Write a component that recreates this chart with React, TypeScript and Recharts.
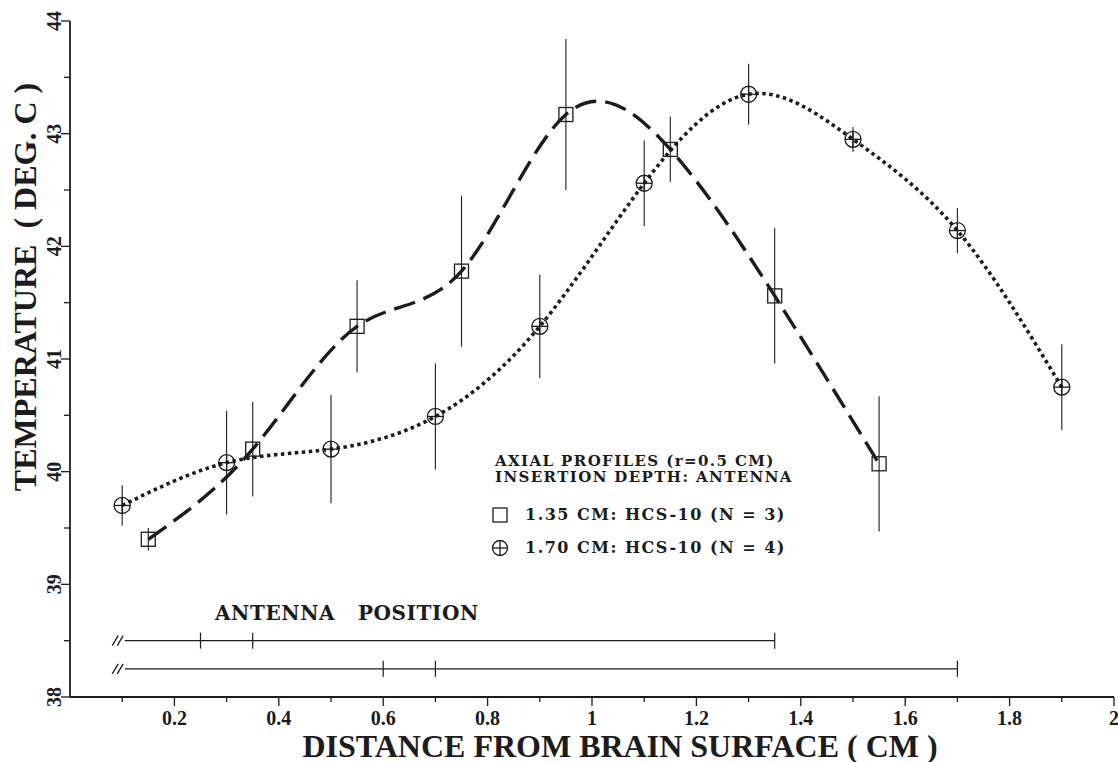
import React from 'react';
import {
  ComposedChart, Line, Scatter, XAxis, YAxis, ErrorBar, ReferenceLine, ReferenceDot,
} from 'recharts';

// 1.35 cm insertion (squares, long dashes)
const sqDepth = [0.15, 0.35, 0.55, 0.75, 0.95, 1.15, 1.35, 1.55];
const sqTemp  = [39.4, 40.2, 41.29, 41.78, 43.17, 42.86, 41.56, 40.07];
const sqErr   = [0.1, 0.42, 0.41, 0.67, 0.67, 0.29, 0.6, 0.6];

// 1.70 cm insertion (crossed circles, dotted)
const ciDepth = [0.1, 0.3, 0.5, 0.7, 0.9, 1.1, 1.3, 1.5, 1.7, 1.9];
const ciTemp  = [39.7, 40.08, 40.2, 40.49, 41.29, 42.56, 43.35, 42.95, 42.14, 40.75];
const ciErr   = [0.18, 0.46, 0.48, 0.47, 0.46, 0.38, 0.27, 0.11, 0.2, 0.38];

const xTicks = [0, 0.1, 0.2, 0.3, 0.4, 0.5, 0.6, 0.7, 0.8, 0.9, 1, 1.1, 1.2, 1.3, 1.4, 1.5, 1.6, 1.7, 1.8, 1.9, 2];
const yTicks = [38, 38.5, 39, 39.5, 40, 40.5, 41, 41.5, 42, 42.5, 43, 43.5, 44];

// antenna position bars
const antennaLevel = [38.5, 38.25];
const antennaStart = [0.105, 0.105];
const antennaEnd   = [1.35, 1.7];
const antennaMarks = [[0.25, 0.35], [0.6, 0.7]];

const W = 1118;
const H = 762;
const PLOT_LEFT = 70;
const PLOT_BOTTOM = 697;
const INK = '#1c1c1c';
const SERIF = '"Liberation Serif", "Times New Roman", serif';
const WIDE = '"DejaVu Serif", serif';

const sqData = sqDepth.map((x, i) => ({ x, y: sqTemp[i], err: sqErr[i] }));
const ciData = ciDepth.map((x, i) => ({ x, y: ciTemp[i], err: ciErr[i] }));

const SquareMark = ({ cx, cy }: any) => (
  <rect x={cx - 7} y={cy - 7} width={14} height={14} fill="none" stroke={INK} strokeWidth={1.3} />
);

const CrossCircle = ({ cx, cy }: any) => (
  <g>
    <circle cx={cx} cy={cy} r={8} fill="none" stroke={INK} strokeWidth={1.3} />
    <line x1={cx - 8} y1={cy} x2={cx + 8} y2={cy} stroke={INK} strokeWidth={1.3} />
    <line x1={cx} y1={cy - 8} x2={cx} y2={cy + 8} stroke={INK} strokeWidth={1.3} />
  </g>
);

const VMark = ({ cx, cy }: any) => (
  <line x1={cx} y1={cy - 8} x2={cx} y2={cy + 8} stroke={INK} strokeWidth={1.2} />
);

const BreakMark = ({ cx, cy }: any) => (
  <g stroke={INK} strokeWidth={1.3}>
    <line x1={cx - 10} y1={cy + 5} x2={cx - 4} y2={cy - 5} />
    <line x1={cx - 5} y1={cy + 5} x2={cx + 1} y2={cy - 5} />
  </g>
);

const XTick = ({ x, payload }: any) => {
  const v = payload.value;
  if (v === 0) return <g />;
  const major = Math.round(v * 10) % 2 === 0;
  return (
    <g>
      <line x1={x} y1={PLOT_BOTTOM} x2={x} y2={PLOT_BOTTOM + (major ? 9 : 5)} stroke={INK} strokeWidth={1.3} />
      {major && (
        <text x={x} y={PLOT_BOTTOM + 28} textAnchor="middle" fontFamily={SERIF} fontWeight={700} fontSize={20} fill={INK}>
          {String(v)}
        </text>
      )}
    </g>
  );
};

const YTick = ({ y, payload }: any) => {
  const v = payload.value;
  const major = Number.isInteger(v);
  return (
    <g>
      <line x1={PLOT_LEFT} y1={y} x2={PLOT_LEFT - (major ? 9 : 6)} y2={y} stroke={INK} strokeWidth={1.3} />
      {major && (
        <text
          x={54}
          y={y}
          transform={`rotate(-90 54 ${y})`}
          textAnchor="middle"
          dominantBaseline="central"
          fontFamily={SERIF}
          fontWeight={700}
          fontSize={20}
          fill={INK}
        >
          {String(v)}
        </text>
      )}
    </g>
  );
};

export default function App() {
  return (
    <div style={{ position: 'absolute', left: 0, top: 0, width: W, height: H, background: '#fff', overflow: 'hidden' }}>
      <ComposedChart width={W} height={H} margin={{ top: 21, right: 4, bottom: 0, left: 0 }}>
        <XAxis
          dataKey="x"
          type="number"
          domain={[0, 2]}
          ticks={xTicks}
          interval={0}
          tick={<XTick />}
          tickLine={false}
          height={65}
          axisLine={{ stroke: INK, strokeWidth: 1.8 }}
        />
        <YAxis
          type="number"
          domain={[38, 44]}
          ticks={yTicks}
          interval={0}
          tick={<YTick />}
          tickLine={false}
          width={70}
          axisLine={{ stroke: INK, strokeWidth: 1.8 }}
        />

        {antennaLevel.map((lv, i) => (
          <ReferenceLine
            key={'al' + i}
            segment={[{ x: antennaStart[i], y: lv }, { x: antennaEnd[i], y: lv }]}
            stroke={INK}
            strokeWidth={1.3}
          />
        ))}
        {antennaLevel.map((lv, i) => (
          <ReferenceDot key={'ab' + i} x={0.1} y={lv} r={0} shape={<BreakMark />} />
        ))}
        {antennaLevel.map((lv, i) =>
          [...antennaMarks[i], antennaEnd[i]].map((m, j) => (
            <ReferenceDot key={'am' + i + '-' + j} x={m} y={lv} r={0} shape={<VMark />} />
          )),
        )}

        <Line
          data={sqData}
          dataKey="y"
          type="natural"
          stroke={INK}
          strokeWidth={3.4}
          strokeDasharray="22 9"
          dot={false}
          activeDot={false}
          isAnimationActive={false}
        />
        <Line
          data={ciData}
          dataKey="y"
          type="natural"
          stroke={INK}
          strokeWidth={3.6}
          strokeDasharray="3.5 3.5"
          dot={false}
          activeDot={false}
          isAnimationActive={false}
        />
        <Scatter data={sqData} dataKey="y" shape={<SquareMark />} isAnimationActive={false}>
          <ErrorBar dataKey="err" direction="y" width={0} stroke={INK} strokeWidth={1.1} />
        </Scatter>
        <Scatter data={ciData} dataKey="y" shape={<CrossCircle />} isAnimationActive={false}>
          <ErrorBar dataKey="err" direction="y" width={0} stroke={INK} strokeWidth={1.1} />
        </Scatter>
      </ComposedChart>

      {/* axis titles */}
      <div
        style={{
          position: 'absolute', left: 620, top: 746, transform: 'translate(-50%, -50%)',
          whiteSpace: 'pre', fontFamily: SERIF, fontWeight: 700, fontSize: 32, color: INK,
        }}
      >
        {'DISTANCE FROM BRAIN SURFACE ( CM )'}
      </div>
      <div
        style={{
          position: 'absolute', left: 25, top: 287, transform: 'translate(-50%, -50%) rotate(-90deg)',
          whiteSpace: 'pre', fontFamily: SERIF, fontWeight: 700, fontSize: 32, color: INK,
        }}
      >
        {'TEMPERATURE  ( DEG. C )'}
      </div>

      {/* legend block */}
      <div style={{ position: 'absolute', left: 495, top: 453, fontFamily: WIDE, fontWeight: 700, fontSize: 15, letterSpacing: 1.4, lineHeight: '16px', color: INK, whiteSpace: 'nowrap' }}>
        <div>AXIAL PROFILES (r=0.5 CM)</div>
        <div>INSERTION DEPTH: ANTENNA</div>
      </div>
      <div style={{ position: 'absolute', left: 491, top: 505, display: 'flex', alignItems: 'center', gap: 16, fontFamily: WIDE, fontWeight: 700, fontSize: 16, letterSpacing: 1.5, color: INK, whiteSpace: 'pre' }}>
        <svg width={18} height={18}><rect x={2} y={2} width={14} height={14} fill="none" stroke={INK} strokeWidth={1.3} /></svg>
        <span>{'1.35 CM: HCS-10 (N = 3)'}</span>
      </div>
      <div style={{ position: 'absolute', left: 491, top: 538, display: 'flex', alignItems: 'center', gap: 16, fontFamily: WIDE, fontWeight: 700, fontSize: 16, letterSpacing: 1.5, color: INK, whiteSpace: 'pre' }}>
        <svg width={18} height={18}>
          <circle cx={9} cy={9} r={7.5} fill="none" stroke={INK} strokeWidth={1.3} />
          <line x1={1.5} y1={9} x2={16.5} y2={9} stroke={INK} strokeWidth={1.3} />
          <line x1={9} y1={1.5} x2={9} y2={16.5} stroke={INK} strokeWidth={1.3} />
        </svg>
        <span>{'1.70 CM: HCS-10 (N = 4)'}</span>
      </div>

      <div style={{ position: 'absolute', left: 215, top: 601, fontFamily: WIDE, fontWeight: 700, fontSize: 20, letterSpacing: 0.6, color: INK, whiteSpace: 'pre' }}>
        {'ANTENNA   POSITION'}
      </div>
    </div>
  );
}
